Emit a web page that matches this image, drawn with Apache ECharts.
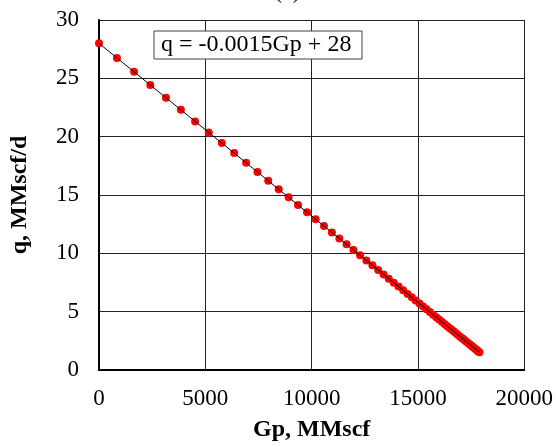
<!DOCTYPE html>
<html>
<head>
<meta charset="utf-8">
<script src="https://cdn.jsdelivr.net/npm/echarts@6/dist/echarts.min.js"></script>
<style>html,body{margin:0;padding:0;background:#fff}#c{width:556px;height:447px}</style>
</head>
<body>
<div id="c"></div>
<script>
// Cumulative production Gp (MMscf)
var gp = [0, 845, 1649, 2412, 3149, 3851, 4520, 5162, 5777, 6358, 6919, 7453, 7959, 8453, 8919, 9358, 9784, 10189, 10581, 10953, 11304, 11642, 11966, 12277, 12574, 12858, 13128, 13385, 13628, 13865, 14088, 14304, 14514, 14709, 14892, 15074, 15243, 15405, 15561, 15716, 15858, 15993, 16122, 16250, 16365, 16480, 16588, 16689, 16791, 16885, 16973, 17061, 17142, 17223, 17297, 17372, 17439, 17507, 17568, 17628, 17689, 17743, 17791, 17845, 17892];
// Rate q (MMscf/d)
var q = [28.00, 26.75, 25.56, 24.43, 23.34, 22.30, 21.31, 20.36, 19.45, 18.59, 17.76, 16.97, 16.22, 15.49, 14.80, 14.15, 13.52, 12.92, 12.34, 11.79, 11.27, 10.77, 10.29, 9.83, 9.39, 8.97, 8.57, 8.19, 7.83, 7.48, 7.15, 6.83, 6.52, 6.23, 5.96, 5.69, 5.44, 5.20, 4.97, 4.74, 4.53, 4.33, 4.14, 3.95, 3.78, 3.61, 3.45, 3.30, 3.15, 3.01, 2.88, 2.75, 2.63, 2.51, 2.40, 2.29, 2.19, 2.09, 2.00, 1.91, 1.82, 1.74, 1.67, 1.59, 1.52];
// Trendline end points
var trendGp = [0, 17892];
var trendQ = [28.0, 1.52];
var xTicks = [0, 5000, 10000, 15000, 20000];
var yTicks = [0, 5, 10, 15, 20, 25, 30];
var equationText = 'q = -0.0015Gp + 28';
var titleText = '(a)';

var pts = gp.map(function (g, i) { return [g, q[i]]; });
var trend = trendGp.map(function (g, i) { return [g, trendQ[i]]; });
var FONT = '"Liberation Serif","Times New Roman",serif';

var chart = echarts.init(document.getElementById('c'), null, {renderer: 'canvas'});
chart.setOption({
  animation: false,
  backgroundColor: '#fff',
  grid: {left: 97, right: 30, top: 20, bottom: 74, containLabel: false},
  xAxis: {
    type: 'value', min: xTicks[0], max: xTicks[xTicks.length - 1], interval: 5000,
    name: 'Gp, MMscf', nameLocation: 'middle', nameGap: 48,
    nameTextStyle: {fontFamily: FONT, fontSize: 24, fontWeight: 'bold', color: '#000'},
    axisLine: {show: true, lineStyle: {color: '#000', width: 2}},
    axisTick: {show: false},
    axisLabel: {fontFamily: FONT, fontSize: 23, color: '#000', margin: 17,
      formatter: function (v) { return String(v); }},
    splitLine: {show: true, lineStyle: {color: '#222', width: 1}}
  },
  yAxis: {
    type: 'value', min: yTicks[0], max: yTicks[yTicks.length - 1], interval: 5,
    name: 'q, MMscf/d', nameLocation: 'middle', nameGap: 67, nameRotate: 90,
    nameTextStyle: {fontFamily: FONT, fontSize: 24, fontWeight: 'bold', color: '#000'},
    axisLine: {show: true, lineStyle: {color: '#000', width: 2}},
    axisTick: {show: false},
    axisLabel: {fontFamily: FONT, fontSize: 23, color: '#000', margin: 20,
      formatter: function (v) { return String(v); }},
    splitLine: {show: true, lineStyle: {color: '#222', width: 1}}
  },
  graphic: [
    {type: 'text', left: 274, top: -20, style: {text: titleText, font: '24px ' + FONT, fill: '#000'}},
    {type: 'rect', shape: {x: 154, y: 31, width: 208, height: 28}, style: {fill: '#fff', stroke: '#404040', lineWidth: 1}, z: 100},
    {type: 'text', x: 161, y: 45, style: {text: equationText, font: '24px ' + FONT, fill: '#000', verticalAlign: 'middle'}, z: 101}
  ],
  series: [
    {type: 'scatter', data: pts, symbol: 'circle', symbolSize: 8, itemStyle: {color: '#ff0000', opacity: 1}, z: 2},
    {type: 'line', data: trend, symbol: 'none', lineStyle: {color: '#000', width: 1}, z: 3}
  ]
});
</script>
</body>
</html>
